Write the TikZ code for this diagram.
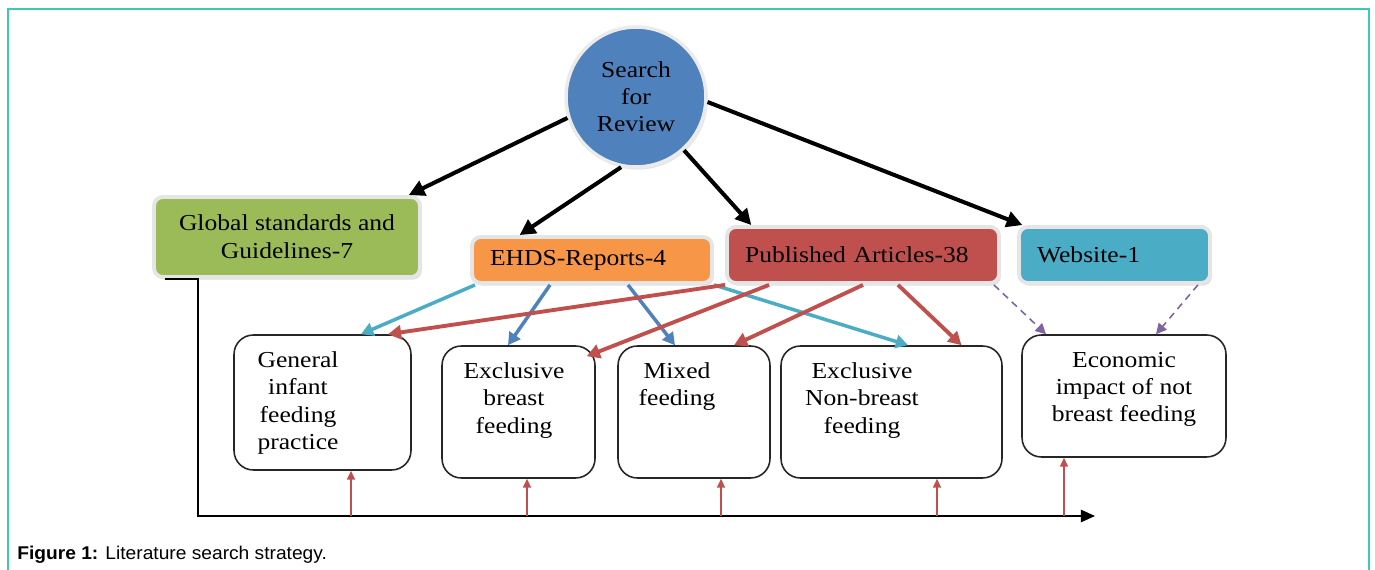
\documentclass[tikz,border=0pt]{standalone}
\usepackage{xcolor}
\usepackage{fontspec}
\setmainfont{Liberation Serif}[FakeStretch = 1.12]
\newfontfamily\captionfont{Liberation Sans}[FakeStretch = 1.04]
\usepackage{tikz}
\usetikzlibrary{arrows.meta}
\usetikzlibrary{positioning, shapes.geometric, shadows}
\definecolor{hubblue}{HTML}{4F81BD}
\definecolor{guidegreen}{HTML}{9BBB59}
\definecolor{reportorange}{HTML}{F79646}
\definecolor{articlered}{HTML}{C0504D}
\definecolor{webcyan}{HTML}{4BACC6}
\definecolor{linkpurple}{HTML}{8064A2}
\definecolor{frameteal}{HTML}{3EC9B4}
\tikzset{
search hub/.style = { circle, draw = black!8, line width = 2pt, fill = hubblue, minimum size = 28mm, align = center, font = \fontsize{13}{15.4}\selectfont, drop shadow = {opacity = 0.2, shadow xshift = 1pt, shadow yshift = -1.5pt} },
source box/.style = { rectangle, draw = black!10, line width = 2.2pt, rounded corners = 5pt, inner xsep = 0.36cm, font = \fontsize{13}{16}\selectfont, drop shadow = {opacity = 0.25, shadow xshift = 1pt, shadow yshift = -1.5pt} },
topic box/.style = { rectangle, draw = black!85, line width = 0.9pt, rounded corners = 11pt },
topic text/.style = { anchor = north, inner sep = 0pt, align = center, font = \fontsize{13}{15.4}\selectfont },
main arrow/.style = { draw = black, line width = 2.3pt, -{Triangle[length = 9pt, width = 9pt]} },
report link/.style = { draw = #1, line width = 2pt, -{Triangle[length = 7pt, width = 7.5pt]} },
article link/.style = { draw = articlered, line width = 2.2pt, -{Triangle[length = 7.5pt, width = 8pt]} },
web link/.style = { draw = linkpurple, line width = 0.9pt, dashed, dash pattern = on 4pt off 3pt, -{Triangle[length = 6pt, width = 6pt]} },
axis tick/.style = { draw = articlered, line width = 0.9pt, -{Triangle[length = 5pt, width = 4.5pt]} },
}

\begin{document}
\begin{tikzpicture}[x = 0.02cm, y = -0.02cm]
    \useasboundingbox (0, 0) rectangle (1375, 570);
    \draw[frameteal, line width = 1.1pt] (8, 580) -- (8, 9) -- (1369, 9) -- (1369, 580);
    % search and sources
    \node[search hub] (search) at (636, 97) {Search\\for\\Review};
    \node[source box, fill = guidegreen, minimum width = 5.32cm, minimum height = 1.6cm, align = center] (global) at (287, 237) {Global standards and\\Guidelines-7};
    \node[source box, fill = reportorange, minimum width = 4.8cm, minimum height = 0.92cm, text width = 4.08cm, align = left] (ehds) at (592, 260) {EHDS-Reports-4};
    \node[source box, fill = articlered, minimum width = 5.44cm, minimum height = 1.12cm, text width = 4.72cm, align = left] (published) at (863, 255) {Published Articles-38};
    \node[source box, fill = webcyan, minimum width = 3.82cm, minimum height = 1.12cm, text width = 3.1cm, align = left] (website) at (1114.5, 255) {Website-1};
    % topics
    \node[topic box, minimum width = 3.54cm, minimum height = 2.7cm, label = {[topic text, name = general text, xshift = -0.49cm, yshift = -0.35cm]north:{General\\infant\\feeding\\practice}}] (general) at (322.5, 402.5) {};
    \node[topic box, minimum width = 3.06cm, minimum height = 2.64cm, label = {[topic text, name = exbreast text, xshift = -0.09cm, yshift = -0.35cm]north:{Exclusive\\breast\\feeding}}] (exbreast) at (518.5, 412) {};
    \node[topic box, minimum width = 3.04cm, minimum height = 2.64cm, label = {[topic text, name = mixed text, xshift = -0.34cm, yshift = -0.35cm]north:{Mixed\\feeding}}] (mixed) at (694, 412) {};
    \node[topic box, minimum width = 4.42cm, minimum height = 2.64cm, label = {[topic text, name = nonbreast text, xshift = -0.59cm, yshift = -0.35cm]north:{Exclusive\\Non-breast\\feeding}}] (nonbreast) at (891.5, 412) {};
    \node[topic box, minimum width = 4.08cm, minimum height = 2.44cm, label = {[topic text, name = economic text, yshift = -0.35cm]north:{Economic\\impact of not\\breast feeding}}] (economic) at (1124, 396) {};
    % search arrows
    \draw[main arrow] (search.197) -- (global.19);
    \draw[main arrow] (search.258) -- (ehds.161);
    \draw[main arrow] (search.312) -- (published.165);
    \draw[main arrow] (search.356) -- (website.162);
    % source to topic links
    \draw[report link = webcyan] ([xshift = -2.34cm]ehds.south) -- ([xshift = 0.77cm]general.north);
    \draw[report link = hubblue] ([xshift = -0.84cm]ehds.south) -- ([xshift = -0.21cm]exbreast.north);
    \draw[report link = hubblue] ([xshift = 0.72cm]ehds.south) -- ([xshift = -0.38cm]mixed.north);
    \draw[report link = webcyan] (ehds.south east) -- ([xshift = 0.33cm]nonbreast.north);
    \draw[article link] (published.south west) -- ([xshift = 1.31cm]general.north);
    \draw[article link] ([xshift = -1.88cm]published.south) -- ([xshift = -0.18cm, yshift = -0.22cm]exbreast.north east);
    \draw[article link] (published.south) -- ([xshift = 0.8cm]mixed.north);
    \draw[article link] ([xshift = 0.7cm]published.south) -- ([xshift = 1.4cm]nonbreast.north);
    \draw[web link] ([xshift = -0.14cm]published.south east) -- ([xshift = -1.56cm]economic.north);
    \draw[web link] ([xshift = -0.28cm]website.south east) -- ([xshift = 0.64cm]economic.north);
    % guideline axis
    \coordinate (axis end) at (1095, 516);
    \draw[black, line width = 0.9pt, -{Triangle[length = 8pt, width = 7pt]}] ([xshift = 0.26cm]global.south west) -- ([xshift = 0.92cm]global.south west) |- (axis end);
    \coordinate (tick a) at (351, 516);
    \coordinate (tick b) at (527, 516);
    \coordinate (tick c) at (721, 516);
    \coordinate (tick d) at (937, 516);
    \coordinate (tick e) at (1064, 516);
    \draw[axis tick] (tick a) -- (tick a |- general.south);
    \draw[axis tick] (tick b) -- (tick b |- exbreast.south);
    \draw[axis tick] (tick c) -- (tick c |- mixed.south);
    \draw[axis tick] (tick d) -- (tick d |- nonbreast.south);
    \draw[axis tick] (tick e) -- (tick e |- economic.south);
    % caption
    \node[anchor = west, inner sep = 0pt, font = \captionfont\fontsize{10.5}{12}\selectfont] (caption) at (17, 555) {\textbf{Figure 1:} Literature search strategy.};
\end{tikzpicture}
\end{document}
